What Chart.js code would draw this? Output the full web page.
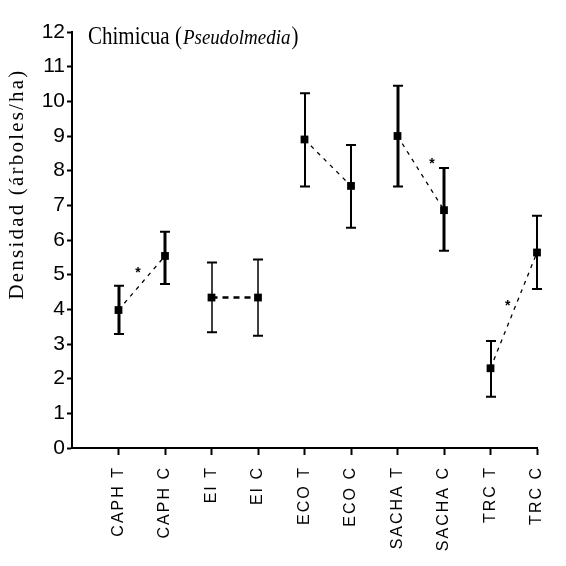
<!DOCTYPE html>
<html>
<head>
<meta charset="utf-8">
<script src="https://cdn.jsdelivr.net/npm/chart.js@4/dist/chart.umd.min.js"></script>
<style>
  html, body { margin: 0; padding: 0; background: #fff; }
  #wrap { width: 566px; height: 566px; }
</style>
</head>
<body>
<div id="wrap"><canvas id="chart" width="566" height="566"></canvas></div>
<script>
// ===== DATA =====
const categories = ['CAPH T', 'CAPH C', 'EI T', 'EI C', 'ECO T', 'ECO C', 'SACHA T', 'SACHA C', 'TRC T', 'TRC C'];
const means = [3.98, 5.54, 4.34, 4.34, 8.90, 7.56, 9.00, 6.86, 2.30, 5.64];
const upper = [4.68, 6.24, 5.35, 5.44, 10.23, 8.74, 10.45, 8.08, 3.09, 6.70];
const lower = [3.29, 4.73, 3.34, 3.24, 7.54, 6.35, 7.54, 5.69, 1.48, 4.59];
const yTicks = [0, 1, 2, 3, 4, 5, 6, 7, 8, 9, 10, 11, 12];
// significant pairs (asterisk) -> position in data units
const starX = [1.42, 7.74, 9.37];
const starY = [5.13, 8.28, 4.18];

// error bar thickness per point
const barWidths = [3, 3, 1.5, 1.5, 2, 2, 3, 3, 2, 2];

const axisFont = '"Liberation Sans", Arial, sans-serif';
const serifFont = '"Liberation Serif", "Times New Roman", serif';

// one dataset per T/C pair, joined by a dashed line
const pairs = [];
for (let i = 0; i < categories.length; i += 2) {
  pairs.push({
    data: [{ x: i + 1, y: means[i] }, { x: i + 2, y: means[i + 1] }],
    showLine: true,
    clip: false,
    borderColor: '#000',
    borderWidth: i === 2 ? 2.5 : 1.3,
    borderDash: i === 2 ? [6, 5] : [4, 5],
    pointStyle: 'rect',
    pointRadius: 5.5,
    pointBackgroundColor: '#000',
    pointBorderColor: '#000',
    pointBorderWidth: 0
  });
}

// ===== PLUGINS =====
const errorBars = {
  id: 'errorBars',
  beforeDatasetsDraw(chart) {
    const { ctx, scales: { x, y } } = chart;
    ctx.save();
    ctx.strokeStyle = '#000';
    means.forEach((m, i) => {
      const px = Math.round(x.getPixelForValue(i + 1));
      const top = y.getPixelForValue(upper[i]);
      const bot = y.getPixelForValue(lower[i]);
      ctx.lineWidth = barWidths[i];
      ctx.beginPath();
      ctx.moveTo(px, top);
      ctx.lineTo(px, bot);
      ctx.stroke();
      ctx.lineWidth = 2;
      ctx.beginPath();
      ctx.moveTo(px - 5, top);
      ctx.lineTo(px + 5, top);
      ctx.moveTo(px - 5, bot);
      ctx.lineTo(px + 5, bot);
      ctx.stroke();
    });
    ctx.restore();
  }
};

const labels = {
  id: 'labels',
  afterDraw(chart) {
    const { ctx, scales: { x, y } } = chart;
    ctx.save();
    ctx.fillStyle = '#000';

    // title inside the plot (the original type is tall and narrow)
    ctx.save();
    ctx.translate(88, 44);
    ctx.scale(1, 1.15);
    ctx.textBaseline = 'alphabetic';
    ctx.textAlign = 'left';
    ctx.font = '21px ' + serifFont;
    const t1 = 'Chimicua (';
    ctx.fillText(t1, 0, 0);
    let w = ctx.measureText(t1).width;
    ctx.font = 'italic 19px ' + serifFont;
    const t2 = 'Pseudolmedia';
    ctx.fillText(t2, w + 1, 0);
    w += ctx.measureText(t2).width + 2;
    ctx.font = '21px ' + serifFont;
    ctx.fillText(')', w, 0);
    ctx.restore();

    // y axis title
    ctx.save();
    ctx.translate(17, 184);
    ctx.rotate(-Math.PI / 2);
    ctx.textAlign = 'center';
    ctx.textBaseline = 'middle';
    ctx.font = '21px ' + serifFont;
    ctx.letterSpacing = '2.2px';
    ctx.fillText('Densidad (árboles/ha)', 0, 0);
    ctx.restore();

    // asterisks
    ctx.textAlign = 'center';
    ctx.textBaseline = 'middle';
    ctx.font = 'bold 14px ' + axisFont;
    starX.forEach((sx, i) => {
      ctx.fillText('*', x.getPixelForValue(sx), y.getPixelForValue(starY[i]) + 3);
    });

    // category labels, rotated
    ctx.font = '16px ' + axisFont;
    ctx.letterSpacing = '2px';
    ctx.textAlign = 'right';
    categories.forEach((c, i) => {
      ctx.save();
      ctx.translate(x.getPixelForValue(i + 1), 466);
      ctx.rotate(-Math.PI / 2);
      ctx.fillText(c, 0, 0);
      ctx.restore();
    });
    ctx.restore();
  }
};

// ===== CHART =====
new Chart(document.getElementById('chart'), {
  type: 'scatter',
  data: { datasets: pairs },
  options: {
    responsive: false,
    animation: false,
    layout: { padding: { top: 32, right: 29, left: 0, bottom: 0 } },
    plugins: { legend: { display: false }, tooltip: { enabled: false } },
    scales: {
      x: {
        type: 'linear',
        min: 0,
        max: 10,
        afterFit: s => { s.height = 118; },
        afterBuildTicks: s => { s.ticks = categories.map((_, i) => ({ value: i + 1 })); },
        border: { color: '#000', width: 2 },
        grid: { display: true, drawOnChartArea: false, drawTicks: true, tickLength: 7, tickWidth: 2, tickColor: '#000' },
        ticks: { display: true, callback: () => '' }
      },
      y: {
        min: 0,
        max: 12,
        afterFit: s => { s.width = 72; },
        afterBuildTicks: s => { s.ticks = yTicks.map(v => ({ value: v })); },
        border: { color: '#000', width: 2 },
        grid: { display: true, drawOnChartArea: false, drawTicks: true, tickLength: 5, tickWidth: 2, tickColor: '#000' },
        ticks: {
          color: '#000',
          padding: 2,
          font: { family: axisFont, size: 21 }
        }
      }
    }
  },
  plugins: [errorBars, labels]
});
</script>
</body>
</html>
